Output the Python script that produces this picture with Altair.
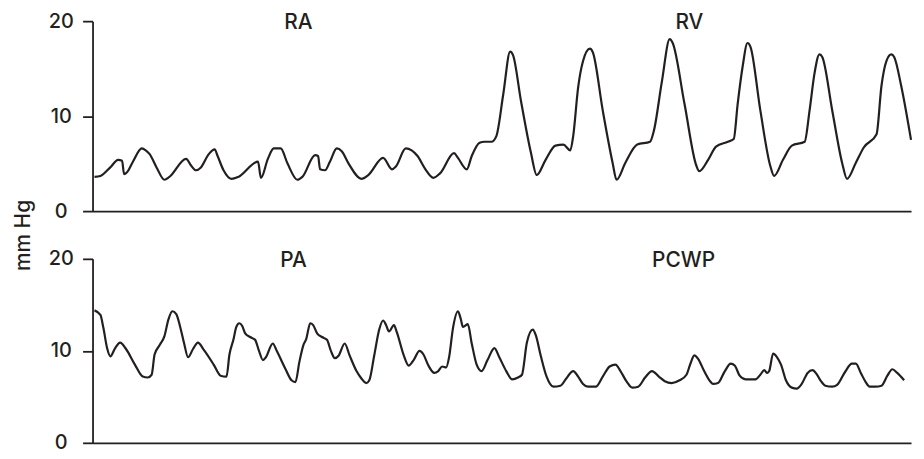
import altair as alt
import pandas as pd

# ---------------- data ----------------
# upper trace: right atrium (RA) then right ventricle (RV)
top_t = [2, 8, 18, 26, 30, 32, 35, 41, 50, 54, 58, 65, 73, 78, 95, 100, 105, 110, 118, 124,
         127, 133, 141, 148, 168, 171, 178, 184, 191, 198, 208, 213, 226, 229, 231, 236, 241,
         248, 253, 260, 273, 280, 295, 304, 308, 318, 324, 330, 338, 346, 353, 367, 371, 380,
         385, 393, 398, 405, 410, 417, 424, 427, 435, 445, 451, 460, 470, 478, 485, 488, 493,
         498, 505, 508, 518, 528, 532, 541, 553, 566, 570, 578, 586, 589, 601, 613, 616, 625,
         633, 645, 651, 655, 660, 665, 668, 678, 688, 692, 701, 710, 723, 728, 733, 738, 741,
         751, 761, 766, 775, 783, 796, 801, 806, 811, 814, 821, 831]
top_mmhg = [3.6, 3.7, 4.6, 5.4, 5.3, 3.9, 4.1, 5.2, 6.6, 6.4, 6.0, 4.6, 3.3, 3.6, 5.5, 4.8,
            4.3, 4.6, 6.0, 6.5, 5.8, 4.3, 3.4, 3.6, 5.2, 3.5, 5.5, 6.6, 6.6, 5.0, 3.3, 3.6,
            5.9, 5.8, 4.4, 4.3, 5.2, 6.6, 6.3, 5.0, 3.4, 3.8, 5.6, 4.4, 4.7, 6.6, 6.4, 5.8,
            4.4, 3.5, 4.0, 6.1, 5.6, 4.4, 5.8, 7.2, 7.3, 7.3, 7.9, 12.3, 16.8, 16.4, 11.6,
            6.2, 3.8, 5.4, 6.9, 7.0, 6.4, 7.9, 13.0, 15.8, 17.1, 16.7, 10.6, 5.1, 3.3, 5.1,
            7.0, 7.3, 8.5, 13.6, 18.1, 17.7, 11.3, 4.8, 4.2, 5.4, 6.8, 7.3, 7.6, 11.3, 15.2,
            17.7, 17.3, 10.6, 4.8, 3.7, 5.4, 6.9, 7.3, 10.6, 14.5, 16.5, 16.2, 10.6, 5.1,
            3.4, 5.1, 6.7, 8.1, 13.2, 15.8, 16.5, 16.2, 13.2, 7.5]

# lower trace: pulmonary artery (PA) then pulmonary capillary wedge (PCWP)
bottom_t = [2, 8, 11, 15, 18, 23, 28, 34, 43, 51, 56, 60, 63, 68, 73, 77, 81, 85, 89, 93,
            97, 102, 107, 113, 123, 130, 136, 139, 143, 146, 149, 152, 155, 160, 165, 169,
            173, 176, 183, 187, 196, 202, 206, 210, 214, 217, 221, 224, 228, 233, 238, 242,
            246, 250, 256, 261, 268, 273, 278, 281, 286, 291, 295, 298, 301, 306, 309, 316,
            321, 326, 332, 336, 341, 347, 351, 355, 359, 362, 366, 371, 374, 376, 378, 381,
            385, 390, 395, 401, 408, 413, 420, 426, 432, 436, 441, 447, 450, 455, 461, 468,
            475, 481, 488, 493, 498, 503, 511, 518, 525, 531, 536, 542, 548, 554, 561, 568,
            575, 581, 588, 596, 603, 607, 611, 615, 621, 627, 630, 635, 642, 648, 652, 657,
            663, 673, 678, 682, 685, 687, 691, 695, 699, 704, 710, 715, 720, 726, 731, 735,
            739, 744, 751, 756, 764, 771, 775, 780, 785, 789, 795, 801, 807, 812, 817, 824]
bottom_mmhg = [14.4, 13.9, 12.5, 10.2, 9.4, 10.3, 10.9, 10.2, 8.5, 7.2, 7.1, 7.4, 9.6, 10.6,
               11.6, 13.4, 14.3, 14.0, 12.6, 10.8, 9.3, 10.2, 10.9, 10.1, 8.5, 7.3, 7.2, 9.6,
               11.2, 12.6, 13.0, 12.7, 11.9, 11.5, 11.2, 10.0, 9.0, 9.3, 10.8, 10.0, 8.0, 6.8,
               6.6, 8.8, 10.6, 11.3, 13.0, 12.8, 11.9, 11.5, 11.2, 10.0, 9.2, 9.5, 10.8, 9.5,
               7.8, 7.0, 6.5, 6.8, 9.5, 12.3, 13.3, 12.8, 12.1, 12.8, 12.0, 9.5, 8.4, 9.0,
               10.0, 9.6, 8.4, 7.6, 7.8, 8.3, 8.2, 9.3, 12.5, 14.3, 13.4, 12.6, 12.7, 12.9,
               10.8, 8.5, 7.8, 9.0, 10.3, 9.3, 7.8, 6.9, 7.1, 7.4, 10.9, 12.3, 11.7, 9.5, 7.2,
               6.1, 6.2, 7.0, 7.8, 7.2, 6.4, 6.1, 6.1, 7.2, 8.3, 8.5, 7.8, 6.7, 6.0, 6.1, 7.1,
               7.8, 7.2, 6.7, 6.5, 6.8, 7.4, 8.6, 9.5, 9.1, 7.8, 6.7, 6.4, 6.5, 7.8, 8.6, 8.4,
               7.3, 6.9, 6.9, 7.4, 7.9, 7.6, 7.8, 9.7, 9.3, 8.5, 6.8, 6.0, 5.9, 6.4, 7.6, 7.9,
               7.5, 6.8, 6.2, 6.1, 6.3, 7.7, 8.6, 8.6, 7.6, 6.6, 6.1, 6.1, 6.2, 7.3, 8.0, 7.6,
               6.8]

top_labels = ["RA", "RV"]
top_label_t = [209, 606]
bottom_labels = ["PA", "PCWP"]
bottom_label_t = [204, 600]
label_level = [19.8, 19.8]

y_ticks = [0, 10, 20]
t_domain = [0, 831]
y_domain = [0, 20]

INK = "#231f20"
FONT = "Inter"
WEIGHT = 500


def panel(t, v, labels, label_t, with_title, h):
    df = pd.DataFrame({"t": t, "mmHg": v})
    lab = pd.DataFrame({"t": label_t, "mmHg": label_level, "label": labels})

    x = alt.X(
        "t:Q",
        scale=alt.Scale(domain=t_domain, nice=False, zero=False),
        axis=alt.Axis(labels=False, ticks=False, grid=False, title=None,
                      domainColor=INK, domainWidth=1.8),
    )
    axis_kw = dict(
        values=y_ticks, grid=False, tickSize=10, tickColor=INK, tickWidth=1.8,
        domainColor=INK, domainWidth=1.8, labelAlign="center", labelBaseline="middle",
        labelPadding=22, labelFontSize=20, labelFont=FONT, labelFontWeight=WEIGHT,
        labelColor=INK,
    )
    if with_title:
        axis_kw.update(
            title="mm Hg", titleX=-63, titleY=215, titleAngle=270,
            titleBaseline="alphabetic", titleAlign="center", titleFontSize=21,
            titleFont=FONT, titleFontWeight=WEIGHT, titleColor=INK,
        )
    else:
        axis_kw.update(title=None)
    y = alt.Y("mmHg:Q", scale=alt.Scale(domain=y_domain, nice=False),
              axis=alt.Axis(**axis_kw))

    line = alt.Chart(df).mark_line(
        interpolate="monotone", color=INK, strokeWidth=2.2
    ).encode(x=x, y=y)

    text = alt.Chart(lab).mark_text(
        font=FONT, fontSize=21, fontWeight=WEIGHT, color=INK,
        baseline="middle", align="center"
    ).encode(x="t:Q", y="mmHg:Q", text="label:N")

    return alt.layer(line, text).properties(width=823, height=h)


top = panel(top_t, top_mmhg, top_labels, top_label_t, True, 191)
bottom = panel(bottom_t, bottom_mmhg, bottom_labels, bottom_label_t, False, 185)

chart = (
    alt.vconcat(top, bottom, spacing=48, bounds="flush")
    .properties(padding={"left": 4, "top": 1, "right": 0, "bottom": -2})
    .configure_view(stroke="transparent")
)

chart.save("out.html", embed_options={"renderer": "svg", "actions": False})
